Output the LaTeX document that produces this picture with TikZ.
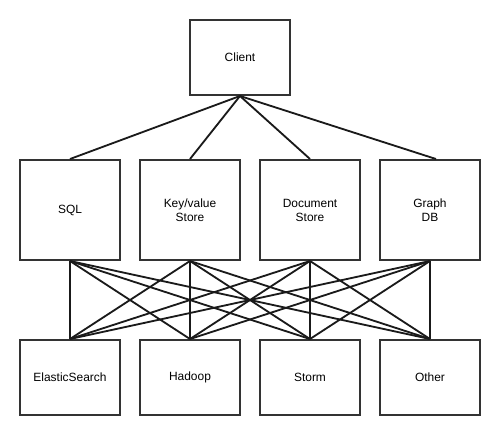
\documentclass[tikz,border=0pt]{standalone}
\usepackage{fontspec}
\setmainfont{Liberation Sans}
\usepackage{xcolor}
\usetikzlibrary{positioning,calc}

\definecolor{boxgray}{HTML}{333333}
\definecolor{linegray}{HTML}{1A1A1A}

\tikzset{
    store/.style={draw=boxgray, line width=1.4pt, minimum width=2.5cm, align=center, font=\fontsize{8.5}{10}\selectfont},
    link/.style={draw=linegray, line width=1.3pt}
}

\begin{document}
\begin{tikzpicture}[x=0.025cm, y=-0.025cm]
    \useasboundingbox (0,0) rectangle (500,435);

    % Client
    \node[store, minimum height=1.875cm] (client) at (240,57.5) {Client};

    % Data stores
    \node[store, minimum height=2.5cm] (sql) at (70,210) {SQL};
    \node[store, minimum height=2.5cm] (kv) at (190,210) {Key/value\\Store};
    \node[store, minimum height=2.5cm] (doc) at (310,210) {Document\\Store};
    \node[store, minimum height=2.5cm] (graph) at (430,210) {Graph\\DB};

    % Consumers
    \node[store, minimum height=1.875cm] (elastic) at (70,377.5) {ElasticSearch};
    \node[store, minimum height=1.875cm] (hadoop) at (190,377.5) {Hadoop};
    \node[store, minimum height=1.875cm] (storm) at (310,377.5) {Storm};
    \node[store, minimum height=1.875cm] (other) at (430,377.5) {Other};

    % Client to stores
    \draw[link] (client.south) -- (sql.north);
    \draw[link] (client.south) -- (kv.north);
    \draw[link] (client.south) -- (doc.north);
    \draw[link] (client.south) -- ([xshift=0.15cm]graph.north);

    % Stores to consumers
    \foreach \s in {sql,kv,doc,graph}
        \foreach \c in {elastic,hadoop,storm,other}
            \draw[link] (\s.south) -- (\c.north);
\end{tikzpicture}
\end{document}
